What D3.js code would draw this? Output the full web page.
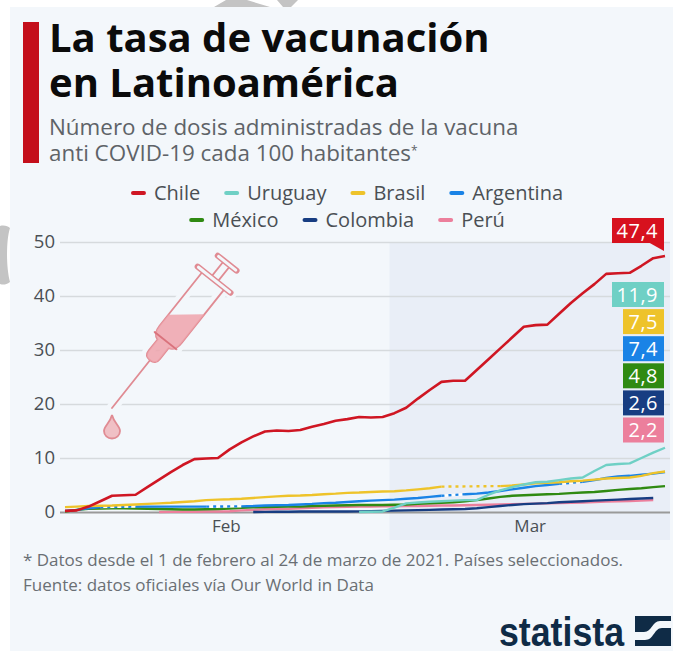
<!DOCTYPE html>
<html>
<head>
<meta charset="utf-8">
<script src="https://cdn.jsdelivr.net/npm/d3@7"></script>
<style>
  html, body { margin: 0; padding: 0; background: #fff; }
  svg { display: block; }
  text { font-family: "Open Sans", sans-serif; }
  .y-axis text { font-family: "Open Sans", sans-serif; font-size: 18.5px; fill: #4a4f54; }
  .x-axis text { font-family: "Open Sans", sans-serif; font-size: 17px; fill: #4a4f54; }
</style>
</head>
<body>
<div class="chart"></div>
<script>
// One value per day, 1 Feb to 24 Mar 2021. null = no report that day
const chile = [0.2, 0.3, 1, 2, 3, 3.1, 3.2, 4.6, 6, 7.4, 8.7, 9.8, 9.9, 10, 11.6, 12.9, 14, 14.9, 15.1, 15, 15.2, 15.8, 16.3, 16.9, 17.2, 17.6, 17.5, 17.6, 18.3, 19.3, 21, 22.6, 24.1, 24.3, 24.3, 26.3, 28.3, 30.3, 32.3, 34.3, 34.6, 34.7, 36.7, 38.7, 40.5, 42.2, 44.1, 44.2, 44.3, 45.6, 47, 47.4];
const uruguay = [null, null, null, null, null, null, null, null, null, null, null, null, null, null, null, null, null, null, null, null, null, null, null, null, null, 0, 0.05, 0.1, 0.8, 1.6, 1.75, 1.9, 2, 2.1, 2.2, 2.2, 3.2, 4, 4.6, 5.1, 5.5, 5.6, 5.9, 6.2, 6.4, 7.6, 8.7, 8.9, 9, 10, 11, 11.9];
const brasil = [0.9, 1, 1.1, 1.15, 1.2, 1.3, 1.4, 1.5, 1.6, 1.7, 1.85, 2, 2.2, 2.3, 2.35, 2.45, 2.6, 2.75, 2.9, 3, 3.05, 3.15, 3.3, 3.4, 3.55, 3.6, 3.7, 3.8, 3.85, 4, 4.2, 4.4, 4.7, null, null, null, null, 4.8, 4.9, 5.1, 5.3, 5.4, 5.5, 5.7, 5.8, 6, 6.2, 6.3, 6.4, 6.7, 7.2, 7.5];
const argentina = [0.2, 0.4, 0.7, 0.9, null, null, 1, 1, 1, 1, 1, 1, 1, null, null, 1.05, 1.1, 1.2, 1.25, 1.3, 1.4, 1.5, 1.65, 1.7, 1.85, 2, 2.1, 2.2, 2.3, 2.45, 2.6, 2.8, 3, null, 3.3, 3.4, 3.6, 3.9, 4.2, 4.5, 4.8, 5, 5.2, null, 5.6, 5.9, 6.3, 6.6, 6.7, 6.9, 7.1, 7.4];
const mexico = [0.1, 0.4, 0.6, 0.65, 0.7, 0.7, 0.65, 0.6, 0.55, 0.5, 0.45, 0.45, 0.5, 0.55, 0.65, 0.8, 0.85, 0.9, 0.95, 1, 1, 1.1, 1.15, 1.2, 1.25, 1.3, 1.3, 1.3, 1.35, 1.4, 1.5, 1.6, 1.7, 1.8, 2, 2.2, 2.5, 2.8, 3, 3.1, 3.2, 3.3, 3.35, 3.5, 3.6, 3.7, 3.9, 4.1, 4.25, 4.4, 4.6, 4.8];
const colombia = [null, null, null, null, null, null, null, null, null, null, null, null, null, null, null, null, 0, 0.02, 0.04, 0.06, 0.08, 0.1, 0.1, 0.1, 0.1, 0.12, 0.15, 0.2, 0.25, 0.3, 0.35, 0.4, 0.45, 0.5, 0.55, 0.7, 0.9, 1.1, 1.3, 1.45, 1.55, 1.65, 1.8, 1.9, 2, 2.1, 2.2, 2.3, 2.4, 2.5, 2.6, null];
const peru = [null, null, null, null, null, null, null, null, 0, 0.02, 0.04, 0.06, 0.08, 0.1, 0.15, 0.3, 0.4, 0.5, 0.55, 0.6, 0.7, 0.8, 0.85, 0.9, 0.95, 1, 1, 1.05, 1.05, 1.1, 1.1, 1.15, 1.2, 1.2, 1.25, 1.3, 1.35, 1.4, 1.45, 1.5, 1.55, 1.6, 1.65, 1.7, 1.75, 1.85, 1.95, 2, 2.05, 2.1, 2.2, null];

const seriesNames = ["Chile", "Uruguay", "Brasil", "Argentina", "México", "Colombia", "Perú"];
const seriesValues = [chile, uruguay, brasil, argentina, mexico, colombia, peru];
const seriesColors = ["#cf1623", "#6fd0c5", "#eec32a", "#1a83e6", "#2f8a12", "#173d82", "#ec7f9c"];
const drawOrder = ["Perú", "Colombia", "México", "Argentina", "Brasil", "Uruguay", "Chile"];

const yTicks = [0, 10, 20, 30, 40, 50];
const monthTicks = [new Date(Date.UTC(2021, 1, 14, 16)), new Date(Date.UTC(2021, 2, 12, 12))];
const monthLabels = ["Feb", "Mar"];
const legendRows = [["Chile", "Uruguay", "Brasil", "Argentina"], ["México", "Colombia", "Perú"]];

const titleLines = ["La tasa de vacunación", "en Latinoamérica"];
const subtitleLines = ["Número de dosis administradas de la vacuna", "anti COVID-19 cada 100 habitantes"];
const noteLines = ["* Datos desde el 1 de febrero al 24 de marzo de 2021. Países seleccionados.", "Fuente: datos oficiales vía Our World in Data"];

const days = d3.utcDay.range(new Date(Date.UTC(2021, 1, 1)), new Date(Date.UTC(2021, 2, 25)));

const width = 673, height = 656;
const cardBg = "#f3f7fb";

const svg = d3.select(".chart").append("svg")
    .attr("width", width)
    .attr("height", height);

// scan leftovers around the card
svg.append("path")
    .attr("d", "M214,7 L226,0 L247,0 L270,7 Z M277,0 L298,0 L291,7 L283,7 Z M0,226 C4,225 8,226 10,228 C6,240 6,268 10,282 C6,285 3,285 0,284 Z")
    .attr("fill", "#c4c4c4");

svg.append("rect")
    .attr("x", 10).attr("y", 7)
    .attr("width", 663).attr("height", 644)
    .attr("fill", cardBg);

// header
svg.append("rect")
    .attr("x", 23).attr("y", 22)
    .attr("width", 16).attr("height", 141)
    .attr("fill", "#c40f1b");

svg.selectAll(".title").data(titleLines).join("text")
    .attr("class", "title")
    .attr("x", 49)
    .attr("y", (d, i) => 52 + i * 45)
    .attr("font-size", 40)
    .attr("font-weight", 700)
    .attr("fill", "#0b0b0b")
    .text(d => d);

const subtitle = svg.selectAll(".subtitle").data(subtitleLines).join("text")
    .attr("class", "subtitle")
    .attr("x", 49)
    .attr("y", (d, i) => 135 + i * 26)
    .attr("font-size", 22.4)
    .attr("fill", "#5e6368")
    .text(d => d);
subtitle.filter((d, i) => i == 1).append("tspan")
    .attr("dy", -6)
    .attr("font-size", 12)
    .text("*");

// legend, one centred row at a time
legendRows.forEach((row, r) => {
    const rowY = 193 + r * 27;
    const g = svg.append("g");
    let cursor = 0;
    row.forEach(name => {
        g.append("rect")
            .attr("x", cursor).attr("y", rowY - 2)
            .attr("width", 15).attr("height", 4)
            .attr("rx", 2)
            .attr("fill", seriesColors[seriesNames.indexOf(name)]);
        const label = g.append("text")
            .attr("x", cursor + 23)
            .attr("y", rowY + 7)
            .attr("font-size", 20)
            .attr("fill", "#4a4f54")
            .text(name);
        cursor += 23 + label.node().getComputedTextLength() + 24;
    });
    g.attr("transform", `translate(${347 - (cursor - 24) / 2},0)`);
});

// scales
const xScale = d3.scaleUtc()
    .domain([days[0], days[days.length - 1]])
    .range([65, 665]);

const yScale = d3.scaleLinear()
    .domain([0, 50])
    .range([512, 242]);

// March band
svg.append("rect")
    .attr("x", xScale(new Date(Date.UTC(2021, 1, 28, 14))))
    .attr("y", yScale(50))
    .attr("width", 670 - xScale(new Date(Date.UTC(2021, 1, 28, 14))))
    .attr("height", 540 - yScale(50))
    .attr("fill", "#e9eef7");

// axes
const yAxis = d3.axisLeft(yScale)
    .tickValues(yTicks)
    .tickSize(-610)
    .tickPadding(5);

const gy = svg.append("g")
    .attr("class", "axis y-axis")
    .attr("transform", "translate(60,0)")
    .call(yAxis);
gy.select(".domain").remove();
gy.selectAll("line")
    .attr("stroke", d => d == 0 ? "#9a9a9a" : "#d6dadd")
    .attr("stroke-width", d => d == 0 ? 2 : 1.5);

const xAxis = d3.axisBottom(xScale)
    .tickValues(monthTicks)
    .tickFormat((d, i) => monthLabels[i])
    .tickSize(0)
    .tickPadding(8);

const gx = svg.append("g")
    .attr("class", "axis x-axis")
    .attr("transform", "translate(0,512)")
    .call(xAxis);
gx.select(".domain").remove();

// syringe, drawn upright with the needle tip at 0,0 and then tilted
const syringeColor = "#e08b93";
const syringe = svg.append("g")
    .attr("transform", "translate(112,408) rotate(38.5)");

const barrelPath = "M-14,-164 L-14,-94 Q-14,-84 -7,-82 L-7,-68 Q-7,-61 0,-61 Q7,-61 7,-68 L7,-82 Q14,-84 14,-94 L14,-164";
const syringeParts = "M0,0 L0,-61 M-22,-164 L22,-164 M-4,-164 L-4,-185 M4,-164 L4,-185 M-13,-185 L13,-185 M-14,-86 L14,-86";

[[cardBg, 11], [syringeColor, 1.8]].forEach(([color, w]) => {
    syringe.append("path").attr("d", barrelPath)
        .attr("fill", "none").attr("stroke", color).attr("stroke-width", w);
    syringe.append("path").attr("d", syringeParts)
        .attr("fill", "none").attr("stroke", color)
        .attr("stroke-width", w).attr("stroke-linecap", "round");
});
syringe.append("path")
    .attr("d", "M-14,-108 L14,-131 L14,-94 Q14,-84 7,-82 L7,-68 Q7,-61 0,-61 Q-7,-61 -7,-68 L-7,-82 Q-14,-84 -14,-94 Z")
    .attr("fill", "#eea3ab")
    .attr("fill-opacity", 0.85);
syringe.append("path")
    .attr("d", "M-14,-86 L14,-86")
    .attr("stroke", "#d9727c").attr("stroke-width", 1.8);
// the bars at the flange and plunger are rounded pills
syringe.append("path")
    .attr("d", "M-21,-164 L21,-164 M-12,-185 L12,-185")
    .attr("stroke", syringeColor).attr("stroke-width", 6).attr("stroke-linecap", "round");
syringe.append("path")
    .attr("d", "M-20,-164 L20,-164 M-11,-185 L11,-185")
    .attr("stroke", cardBg).attr("stroke-width", 3).attr("stroke-linecap", "round");

svg.append("path")
    .attr("d", "M112,415 C114,423 120,426 120,431 A8,7.5 0 0 1 104,431 C104,426 110,423 112,415 Z")
    .attr("fill", "#f0c0c5")
    .attr("stroke", syringeColor)
    .attr("stroke-width", 1.8);

// lines
const line = d3.line()
    .defined(d => d.value != null)
    .x(d => xScale(d.date))
    .y(d => yScale(d.value));

const seriesData = seriesNames.map((name, i) => ({
    name: name,
    color: seriesColors[i],
    points: days.map((date, j) => ({date: date, value: seriesValues[i][j]}))
}));

drawOrder.forEach(name => {
    const s = seriesData.find(d => d.name == name);
    const known = s.points.filter(d => d.value != null);
    // dotted stretch across the days without a report
    const gaps = known.slice(1).map((d, i) => [known[i], d])
        .filter(pair => d3.utcDay.count(pair[0].date, pair[1].date) > 1);
    gaps.forEach(pair => {
        svg.append("path").attr("d", line(pair))
            .attr("fill", "none").attr("stroke", s.name == "Brasil" ? "none" : "#fff").attr("stroke-width", 2.4);
        svg.append("path").attr("d", line(pair))
            .attr("fill", "none").attr("stroke", s.color)
            .attr("stroke-width", 2.4).attr("stroke-dasharray", "3 4");
    });
    svg.append("path")
        .attr("class", "line")
        .attr("d", line(s.points))
        .attr("fill", "none")
        .attr("stroke", s.color)
        .attr("stroke-width", s.name == "Chile" ? 2.6 : 2.4)
        .attr("stroke-linejoin", "round");
});

// end labels
const lastValue = s => s.points.filter(d => d.value != null).pop().value;
const labelText = v => String(v).replace(".", ",");

seriesData.forEach((s, i) => {
    const top = i == 0 ? 218 : 282 + (i - 1) * 27.1;
    const g = svg.append("g");
    g.append("text")
        .attr("x", 664 - 6)
        .attr("y", top + 19.5)
        .attr("text-anchor", "end")
        .attr("font-size", 20)
        .attr("letter-spacing", 0.5)
        .attr("fill", "#fff")
        .text(labelText(lastValue(s)));
    const w = String(lastValue(s)).length > 3 ? 52 : 41;
    g.insert("rect", "text")
        .attr("x", 664 - w).attr("y", top)
        .attr("width", w).attr("height", 25)
        .attr("fill", i == 0 ? "#d7111e" : s.color);
    if (i == 0) {
        g.insert("path", "text")
            .attr("d", `M648,${top + 24} L664,${top + 24} L664,${top + 33} Z`)
            .attr("fill", "#d7111e");
    }
});

// footer
svg.selectAll(".note").data(noteLines).join("text")
    .attr("class", "note")
    .attr("x", 23)
    .attr("y", (d, i) => 566 + i * 24.5)
    .attr("font-size", 17)
    .attr("fill", "#6a6f74")
    .text(d => d);

svg.append("text")
    .attr("x", 499)
    .attr("y", 646)
    .attr("font-size", 41)
    .attr("font-weight", 700)
    .attr("textLength", 125)
    .attr("lengthAdjust", "spacingAndGlyphs")
    .style("font-family", "'Liberation Sans Narrow', 'Liberation Sans', sans-serif")
    .attr("fill", "#0f2b46")
    .text("statista");

svg.append("rect")
    .attr("x", 635).attr("y", 616)
    .attr("width", 36).attr("height", 30)
    .attr("fill", "#0f2b46");
svg.append("path")
    .attr("d", "M635,632 L644,632 C652,632 652,621 660,621 L671,621 L671,628 L662,628 C654,628 654,640 645,640 L635,640 Z")
    .attr("fill", cardBg);
</script>
</body>
</html>
